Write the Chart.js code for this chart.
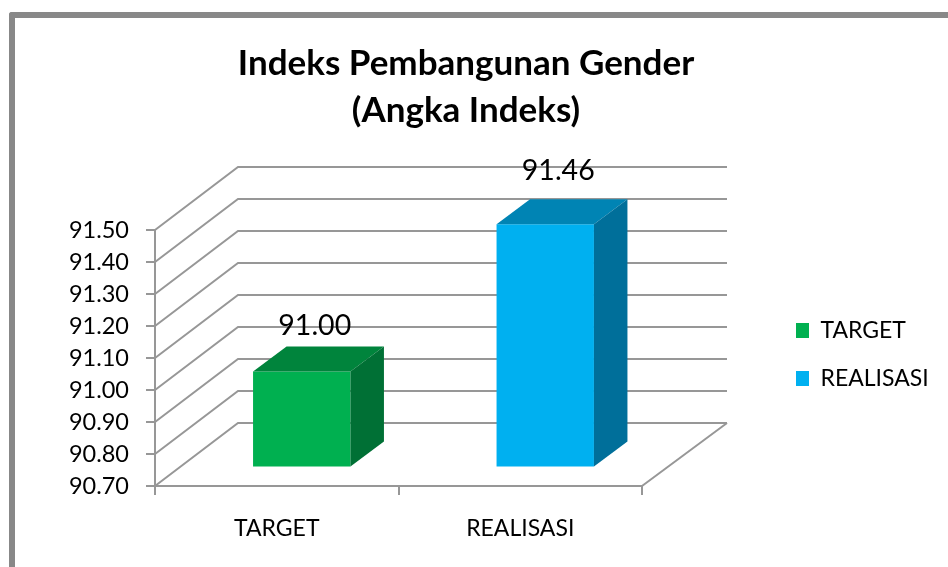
<!DOCTYPE html>
<html>
<head>
<meta charset="utf-8">
<title>Indeks Pembangunan Gender</title>
<script src="https://cdn.jsdelivr.net/npm/chart.js@4"></script>
<style>
    body { margin: 0; background: #fff; overflow: hidden; }
    #frame { position: absolute; left: 9px; top: 12px; right: 0; bottom: 0; border-left: 6px solid #888; border-top: 6px solid #888; border-top-left-radius: 3px; }
    #myChart { position: absolute; left: 0; top: 0; }
</style>
</head>
<body>
<div id="frame"></div>
<canvas id="myChart" width="932" height="567"></canvas>
<script>
const titleLines = ['Indeks Pembangunan Gender', '(Angka Indeks)'];
const categories = ['TARGET', 'REALISASI'];
const values = [91.00, 91.46];
const yMin = 90.70;
const yMax = 91.50;
const yStep = 0.10;

const frontColors = ['#00b050', '#00b0f0'];
const topColors = ['#00843c', '#0084b4'];
const sideColors = ['#007035', '#006f9a'];
const labelLift = [46, 53];

const fontName = 'Lato, Carlito, sans-serif';
const gridColor = '#979797';

// depth of the back wall, and how far inside the floor the bars stand
const wallLeftX = 83;
const wallRightX = 85;
const wallY = -63;
const barX = 25;
const barY = -18.6;
const barDepthX = 33.5;
const barDepthY = -25;

function poly(ctx, color, pts) {
    ctx.fillStyle = color;
    ctx.beginPath();
    pts.forEach((p, i) => i ? ctx.lineTo(p[0], p[1]) : ctx.moveTo(p[0], p[1]));
    ctx.closePath();
    ctx.fill();
}

const fake3d = {
    id: 'fake3d',
    beforeInit(chart) {
        // legend keeps a fixed column so the plot stays where it should
        const fit = chart.legend.fit;
        chart.legend.fit = function () {
            fit.call(this);
            this.width = 290;
        };
    },
    afterLayout(chart) {
        const legend = chart.legend;
        legend.left = 771;
        legend.top += 71;
        legend.bottom += 71;
    },
    beforeDatasetsDraw(chart) {
        const ctx = chart.ctx;
        const area = chart.chartArea;
        const y = chart.scales.y;
        ctx.save();
        ctx.strokeStyle = gridColor;
        ctx.lineWidth = 2;
        y.ticks.forEach(t => {
            const py = y.getPixelForValue(t.value);
            ctx.beginPath();
            ctx.moveTo(area.left, py);
            ctx.lineTo(area.left + wallLeftX, py + wallY);
            ctx.lineTo(area.right + wallRightX, py + wallY);
            ctx.stroke();
        });
        // right side of the floor
        ctx.beginPath();
        ctx.moveTo(area.right, area.bottom);
        ctx.lineTo(area.right + wallRightX, area.bottom + wallY);
        ctx.stroke();
        ctx.restore();

        ctx.save();
        ctx.translate(barX, barY);
    },
    afterDatasetsDraw(chart) {
        const ctx = chart.ctx;
        ctx.restore();
        chart.getDatasetMeta(0).data.forEach((bar, i) => {
            const l = bar.x - bar.width / 2 + barX;
            const r = bar.x + bar.width / 2 + barX;
            const t = bar.y + barY;
            const b = bar.base + barY;
            poly(ctx, topColors[i], [[l, t], [r, t], [r + barDepthX, t + barDepthY], [l + barDepthX, t + barDepthY]]);
            poly(ctx, sideColors[i], [[r, t], [r + barDepthX, t + barDepthY], [r + barDepthX, b + barDepthY], [r, b]]);
            ctx.fillStyle = '#000';
            ctx.font = '28.5px ' + fontName;
            ctx.textAlign = 'center';
            ctx.textBaseline = 'middle';
            ctx.fillText(values[i].toFixed(2), (l + r) / 2 + 13, t - labelLift[i]);
        });
    }
};

new Chart(document.getElementById('myChart'), {
    type: 'bar',
    data: {
        labels: categories,
        datasets: [{
            data: values,
            base: yMin,
            backgroundColor: frontColors,
            borderWidth: 0,
            barPercentage: 0.4,
            categoryPercentage: 1
        }]
    },
    options: {
        responsive: false,
        animation: false,
        layout: { padding: 0 },
        plugins: {
            title: {
                display: true,
                text: titleLines,
                color: '#000',
                font: { family: fontName, size: 35, weight: 'bold', lineHeight: 1.343 },
                padding: { top: 40, bottom: 96 }
            },
            legend: {
                position: 'right',
                labels: {
                    color: '#000',
                    font: { family: fontName, size: 23 },
                    boxWidth: 13,
                    boxHeight: 15,
                    padding: 25,
                    generateLabels: () => categories.map((c, i) => ({
                        text: c, fillStyle: frontColors[i], strokeStyle: frontColors[i], lineWidth: 0, index: i
                    }))
                }
            },
            tooltip: { enabled: false }
        },
        scales: {
            x: {
                afterFit: s => { s.height = 81; },
                grid: { offset: true, drawOnChartArea: false, color: gridColor, lineWidth: 2, tickLength: 9 },
                border: { color: gridColor, width: 2 },
                ticks: { color: '#000', font: { family: fontName, size: 23 }, padding: 20, maxRotation: 0 }
            },
            y: {
                min: yMin,
                max: yMax,
                afterFit: s => { s.width = 155; },
                grid: { drawOnChartArea: false, color: gridColor, lineWidth: 2, tickLength: 9 },
                border: { color: gridColor, width: 2 },
                ticks: {
                    stepSize: yStep,
                    color: '#000',
                    font: { family: fontName, size: 23.5 },
                    padding: 17,
                    callback: v => Number(v).toFixed(2)
                }
            }
        }
    },
    plugins: [fake3d]
});
</script>
</body>
</html>
